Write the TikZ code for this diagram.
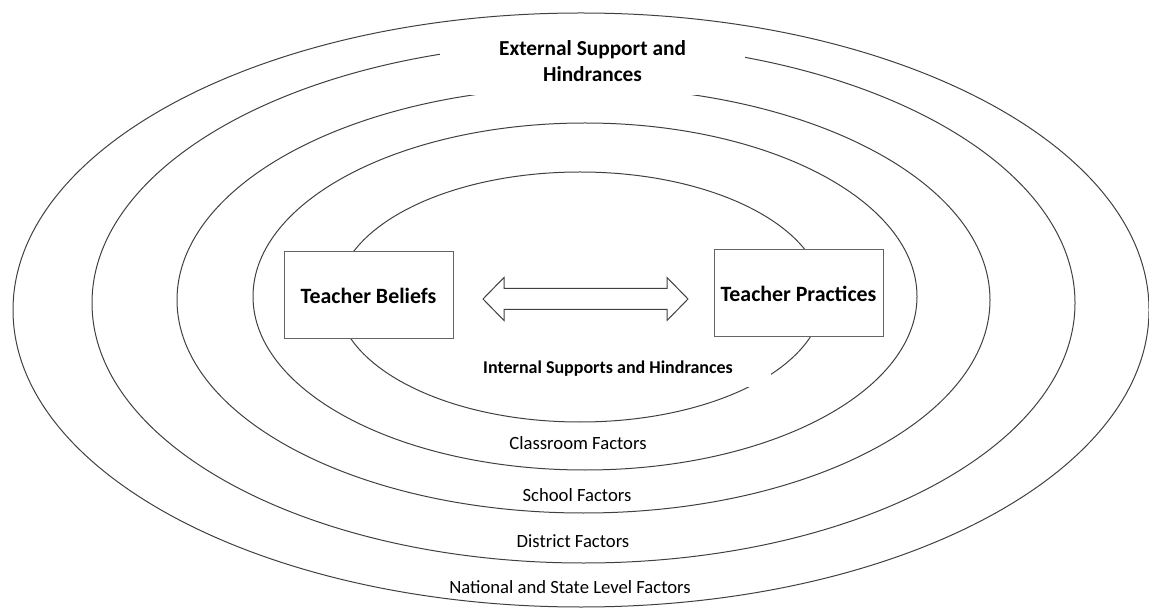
\documentclass[tikz,border=0pt]{standalone}
\usepackage{fontspec}
\setmainfont{Carlito}

\begin{document}
\tikzset{every picture/.style={line width=0.75pt}}

\begin{tikzpicture}[x=0.75pt,y=0.75pt,yscale=-1,xscale=1,
	ring/.style={color={rgb,255:red,64;green,64;blue,64}},
	box/.style={draw={rgb,255:red,100;green,100;blue,100},fill=white,minimum width=126.75pt,minimum height=65.25pt,inner sep=0.75pt,font=\fontsize{16.4}{19}\selectfont\bfseries},
	factor/.style={fill=white,inner sep=0.75pt,font=\fontsize{14}{16}\selectfont}]
	\useasboundingbox (0,0) rectangle (1149,609);
	
	%Shape: Ellipse [id:national]
	\draw [ring] (581,310) ellipse (568 and 297);
	%Shape: Ellipse [id:district]
	\draw [ring] (583.5,303) ellipse (491.5 and 260);
	%Shape: Ellipse [id:school]
	\draw [ring] (583.5,300) ellipse (406.5 and 213);
	%Shape: Ellipse [id:classroom]
	\draw [ring] (585,296.5) ellipse (332 and 173.5);
	%Shape: Ellipse [id:internal]
	\draw [ring] (580,297) ellipse (243 and 125);
	
	% Text Node
	\node [fill=white,align=center,minimum width=228.75pt,minimum height=51.75pt,font=\fontsize{16}{20}\selectfont\bfseries] (external) at (592.5,61) {External Support and\\Hindrances};
	% Text Node
	\node [factor,minimum width=243.75pt,minimum height=27pt,font=\fontsize{13.5}{16}\selectfont\bfseries] (internal) at (608,369) {Internal Supports and Hindrances};
	
	% Text Node
	\node [box] (beliefs) at (368.5,295.5) {Teacher Beliefs};
	% Text Node
	\node [box] (practices) at (798.5,293.5) {Teacher Practices};
	
	%Shape: Left-Right Arrow [id:link]
	\draw [draw={rgb,255:red,64;green,64;blue,64},fill=white] (483,299) -- (504,277.5) -- (504,288.5) -- (667,288.5) -- (667,277.5) -- (688,299) -- (667,320.5) -- (667,309.5) -- (504,309.5) -- (504,320.5) -- cycle ;
	
	% Text Node
	\node [factor] (classroom) at (578,443) {Classroom Factors};
	% Text Node
	\node [factor] (school) at (577,495) {School Factors};
	% Text Node
	\node [factor] (district) at (573,541) {District Factors};
	% Text Node
	\node [factor] (national) at (570,587) {National and State Level Factors};
	
\end{tikzpicture}
\end{document}
